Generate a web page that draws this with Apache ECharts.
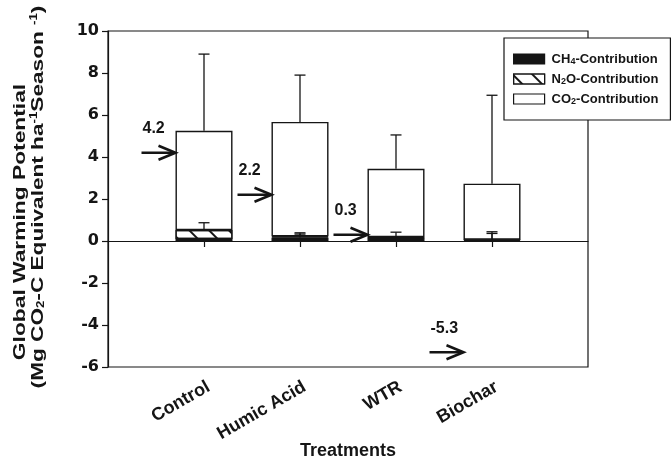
<!DOCTYPE html>
<html><head><meta charset="utf-8">
<script src="https://cdn.jsdelivr.net/npm/echarts@6/dist/echarts.min.js"></script>
<style>html,body{margin:0;padding:0;background:#fff}#c{width:672px;height:459px}</style>
</head><body><div id="c"></div>
<script>
const categories = ['Control', 'Humic Acid', 'WTR', 'Biochar'];
const ch4 = [0.10, 0.17, 0.15, 0.05];
const n2o = [0.42, 0.05, 0.03, 0.02];
const co2 = [4.73, 5.45, 3.26, 2.66];
const totalErrTop = [8.9, 7.9, 5.05, 6.94];
const n2oErrTop = [0.87, 0.39, 0.42, 0.44];
const ch4ErrTop = [null, 0.33, null, 0.36];
const arrowValues = [4.2, 2.2, 0.3, -5.3];
const yTicks = [-6, -4, -2, 0, 2, 4, 6, 8, 10];

const FF = '"Liberation Sans", Arial, Helvetica, sans-serif';
const FW = '"DejaVu Sans", "Liberation Sans", sans-serif';
const INK = '#151515';
const BAR_W = 57;

// axis has an empty slot on each side so the four treatments sit at 1..4
const axisCats = [''].concat(categories, ['']);
const pad = arr => [null].concat(arr, [null]);

const chart = echarts.init(document.getElementById('c'), null, {renderer: 'canvas'});

function errRender(params, api) {
  const x = api.value(0), base = api.value(1), top = api.value(2);
  if (isNaN(top) || isNaN(base)) return null;
  const p0 = api.coord([x, base]), p1 = api.coord([x, top]);
  const hw = 5.5;
  return {type: 'group', children: [
    {type: 'line', shape: {x1: p0[0], y1: p0[1], x2: p1[0], y2: p1[1]}, style: {stroke: INK, lineWidth: 1.3}},
    {type: 'line', shape: {x1: p1[0] - hw, y1: p1[1], x2: p1[0] + hw, y2: p1[1]}, style: {stroke: INK, lineWidth: 1.3}}
  ]};
}

const mainRich = {
  sub: {fontFamily: FF, fontWeight: 'bold', fontSize: 10, lineHeight: 8, verticalAlign: 'bottom', color: INK},
  sup: {fontFamily: FF, fontWeight: 'bold', fontSize: 10, lineHeight: 8, verticalAlign: 'top', color: INK}
};

const legendNames = {
  'CH4-Contribution': 'CH{sub|4}-Contribution',
  'N2O-Contribution': 'N{sub|2}O-Contribution',
  'CO2-Contribution': 'CO{sub|2}-Contribution'
};

const option = {
  animation: false,
  backgroundColor: '#fff',
  grid: {left: 108, right: 84, top: 31, bottom: 92, show: true, borderColor: INK, borderWidth: 1.2, containLabel: false, outerBoundsMode: 'none'},
  xAxis: {
    type: 'category', data: axisCats, boundaryGap: false,
    axisLine: {show: true, lineStyle: {color: INK, width: 1.2}},
    axisTick: {show: true, length: 6, interval: idx => idx >= 1 && idx <= categories.length, lineStyle: {color: INK, width: 1.2}},
    splitLine: {show: false},
    axisLabel: {
      interval: 0, rotate: 30, margin: 11, verticalAlign: 'top',
      fontFamily: FF, fontWeight: 'bold', fontSize: 18, color: INK
    },
    name: 'Treatments', nameLocation: 'middle', nameGap: 75, nameMoveOverlap: false,
    nameTextStyle: {fontFamily: FF, fontWeight: 'bold', fontSize: 18, color: INK}
  },
  yAxis: {
    type: 'value', min: yTicks[0], max: yTicks[yTicks.length - 1], interval: 2,
    axisLine: {show: true, lineStyle: {color: INK, width: 1.2}},
    axisTick: {show: true, length: 6, lineStyle: {color: INK, width: 1.2}},
    splitLine: {show: false},
    axisLabel: {fontFamily: FW, fontWeight: 'bold', fontSize: 16, color: INK, margin: 9}
  },
  legend: {
    orient: 'vertical', left: 504, top: 38,
    icon: 'rect', itemWidth: 31, itemHeight: 10, itemGap: 6,
    padding: [14, 12, 14, 9],
    borderColor: INK, borderWidth: 1.2, backgroundColor: '#fff',
    itemStyle: {borderColor: INK, borderWidth: 1.2},
    data: ['CH4-Contribution', 'N2O-Contribution', 'CO2-Contribution'],
    formatter: n => legendNames[n],
    textStyle: {
      fontFamily: FF, fontWeight: 'bold', fontSize: 13, color: INK, lineHeight: 14, padding: [0, 0, 0, 2],
      rich: {
        sub: {fontFamily: FF, fontWeight: 'bold', fontSize: 9, lineHeight: 8, verticalAlign: 'bottom', color: INK}
      }
    }
  },
  graphic: [
    {type: 'text', x: 20, y: 222, rotation: Math.PI / 2, scaleX: 1.34, z: 100,
      style: {text: 'Global Warming Potential', fontFamily: FF, fontWeight: 'bold', fontSize: 17, fill: INK, align: 'center', verticalAlign: 'middle'}},
    {type: 'text', x: 38, y: 197, rotation: Math.PI / 2, scaleX: 1.33, z: 100,
      style: {text: '(Mg CO{sub|2}-C Equivalent ha{sup|-1}Season {sup|-1})', fontFamily: FF, fontWeight: 'bold', fontSize: 17, fill: INK, align: 'center', verticalAlign: 'middle', rich: mainRich}}
  ],
  series: [
    {
      type: 'bar', name: 'CH4-Contribution', stack: 'gwp', barWidth: BAR_W,
      data: pad(ch4),
      itemStyle: {color: INK, borderColor: INK, borderWidth: 1.2}
    },
    {
      type: 'bar', name: 'N2O-Contribution', stack: 'gwp', barWidth: BAR_W,
      data: pad(n2o),
      itemStyle: {
        color: '#fff', borderColor: INK, borderWidth: 1.2,
        decal: {symbol: 'rect', symbolSize: 1, dashArrayX: [[1, 0]], dashArrayY: [2, 12], rotation: Math.PI / 4, color: INK}
      }
    },
    {
      type: 'bar', name: 'CO2-Contribution', stack: 'gwp', barWidth: BAR_W,
      data: pad(co2),
      itemStyle: {color: '#fff', borderColor: INK, borderWidth: 1.4},
      markLine: {
        silent: true, symbol: ['none', 'none'], label: {show: false},
        lineStyle: {color: INK, type: 'solid', width: 1.2},
        data: [{yAxis: 0}]
      }
    },
    {
      type: 'custom', name: 'errTotal', z: 5,
      renderItem: errRender,
      encode: {x: 0, y: [1, 2]},
      data: totalErrTop.map((t, i) => [i + 1, ch4[i] + n2o[i] + co2[i], t])
    },
    {
      type: 'custom', name: 'errN2O', z: 5,
      renderItem: errRender,
      encode: {x: 0, y: [1, 2]},
      data: n2oErrTop.map((t, i) => [i + 1, ch4[i] + n2o[i], t])
    },
    {
      type: 'custom', name: 'errCH4', z: 5,
      renderItem: errRender,
      encode: {x: 0, y: [1, 2]},
      data: ch4ErrTop.map((t, i) => [i + 1, ch4[i], t == null ? NaN : t])
    },
    {
      type: 'custom', name: 'arrows', z: 6,
      renderItem: function (params, api) {
        const p = api.coord([api.value(0), api.value(1)]);
        const xEnd = p[0] - BAR_W / 2, xStart = xEnd - 34, y = p[1];
        return {type: 'group', children: [
          {type: 'line', shape: {x1: xStart, y1: y, x2: xEnd - 1, y2: y}, style: {stroke: INK, lineWidth: 2.6}},
          {type: 'polyline', shape: {points: [[xEnd - 17, y - 7], [xEnd, y], [xEnd - 17, y + 7]]}, style: {stroke: INK, lineWidth: 2.6, fill: null, lineJoin: 'miter'}},
          {type: 'text', x: xStart + 1, y: y - 24, style: {text: arrowValues[params.dataIndex].toFixed(1), fontFamily: FF, fontWeight: 'bold', fontSize: 16, fill: INK, align: 'left', verticalAlign: 'middle'}}
        ]};
      },
      encode: {x: 0, y: 1},
      data: arrowValues.map((v, i) => [i + 1, v])
    }
  ]
};
chart.setOption(option);
</script>
</body></html>
